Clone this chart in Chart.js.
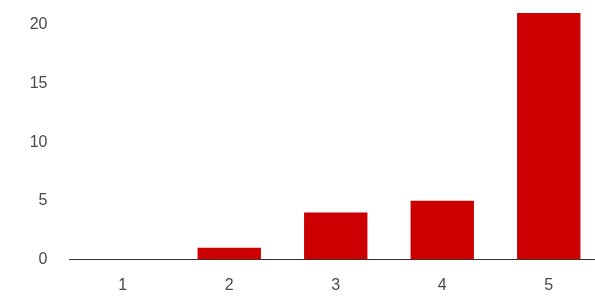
<!DOCTYPE html>
<html>
<head>
<meta charset="utf-8">
<script src="https://cdn.jsdelivr.net/npm/chart.js@4"></script>
<style>
html,body{margin:0;padding:0;background:#fff;overflow:hidden;width:595px;height:296px;}
#wrap{width:602px;height:296px;}
</style>
</head>
<body>
<div id="wrap"><canvas id="c" width="602" height="296"></canvas></div>
<script>
const categories = ['1', '2', '3', '4', '5'];
const counts = [0, 1, 4, 5, 21];
const yTicks = [0, 5, 10, 15, 20];

new Chart(document.getElementById('c'), {
  type: 'bar',
  data: {
    labels: categories,
    datasets: [{
      data: counts,
      backgroundColor: '#cc0000',
      borderWidth: 0,
      barPercentage: 0.595,
      categoryPercentage: 1.0
    }]
  },
  options: {
    responsive: false,
    animation: false,
    devicePixelRatio: 1,
    layout: { padding: { top: 13, right: 0, left: 0, bottom: 0 } },
    plugins: { legend: { display: false }, tooltip: { enabled: false } },
    scales: {
      x: {
        grid: { display: false, drawTicks: false },
        border: { display: true, color: '#333333', width: 1 },
        ticks: { color: '#4a4a4a', font: { family: 'Liberation Sans, Arial, sans-serif', size: 16 }, padding: 16 },
        afterFit: s => { s.height = 36.5; s.paddingLeft = 0; s.paddingRight = 0; }
      },
      y: {
        min: 0,
        max: 21,
        grid: { display: false, drawTicks: false },
        border: { display: false },
        ticks: { color: '#4a4a4a', font: { family: 'Liberation Sans, Arial, sans-serif', size: 16 }, padding: 22, stepSize: 5 },
        afterBuildTicks: s => { s.ticks = yTicks.map(v => ({ value: v })); },
        afterFit: s => { s.width = 69.5; s.paddingTop = 0; s.paddingBottom = 0; }
      }
    }
  }
});
</script>
</body>
</html>
